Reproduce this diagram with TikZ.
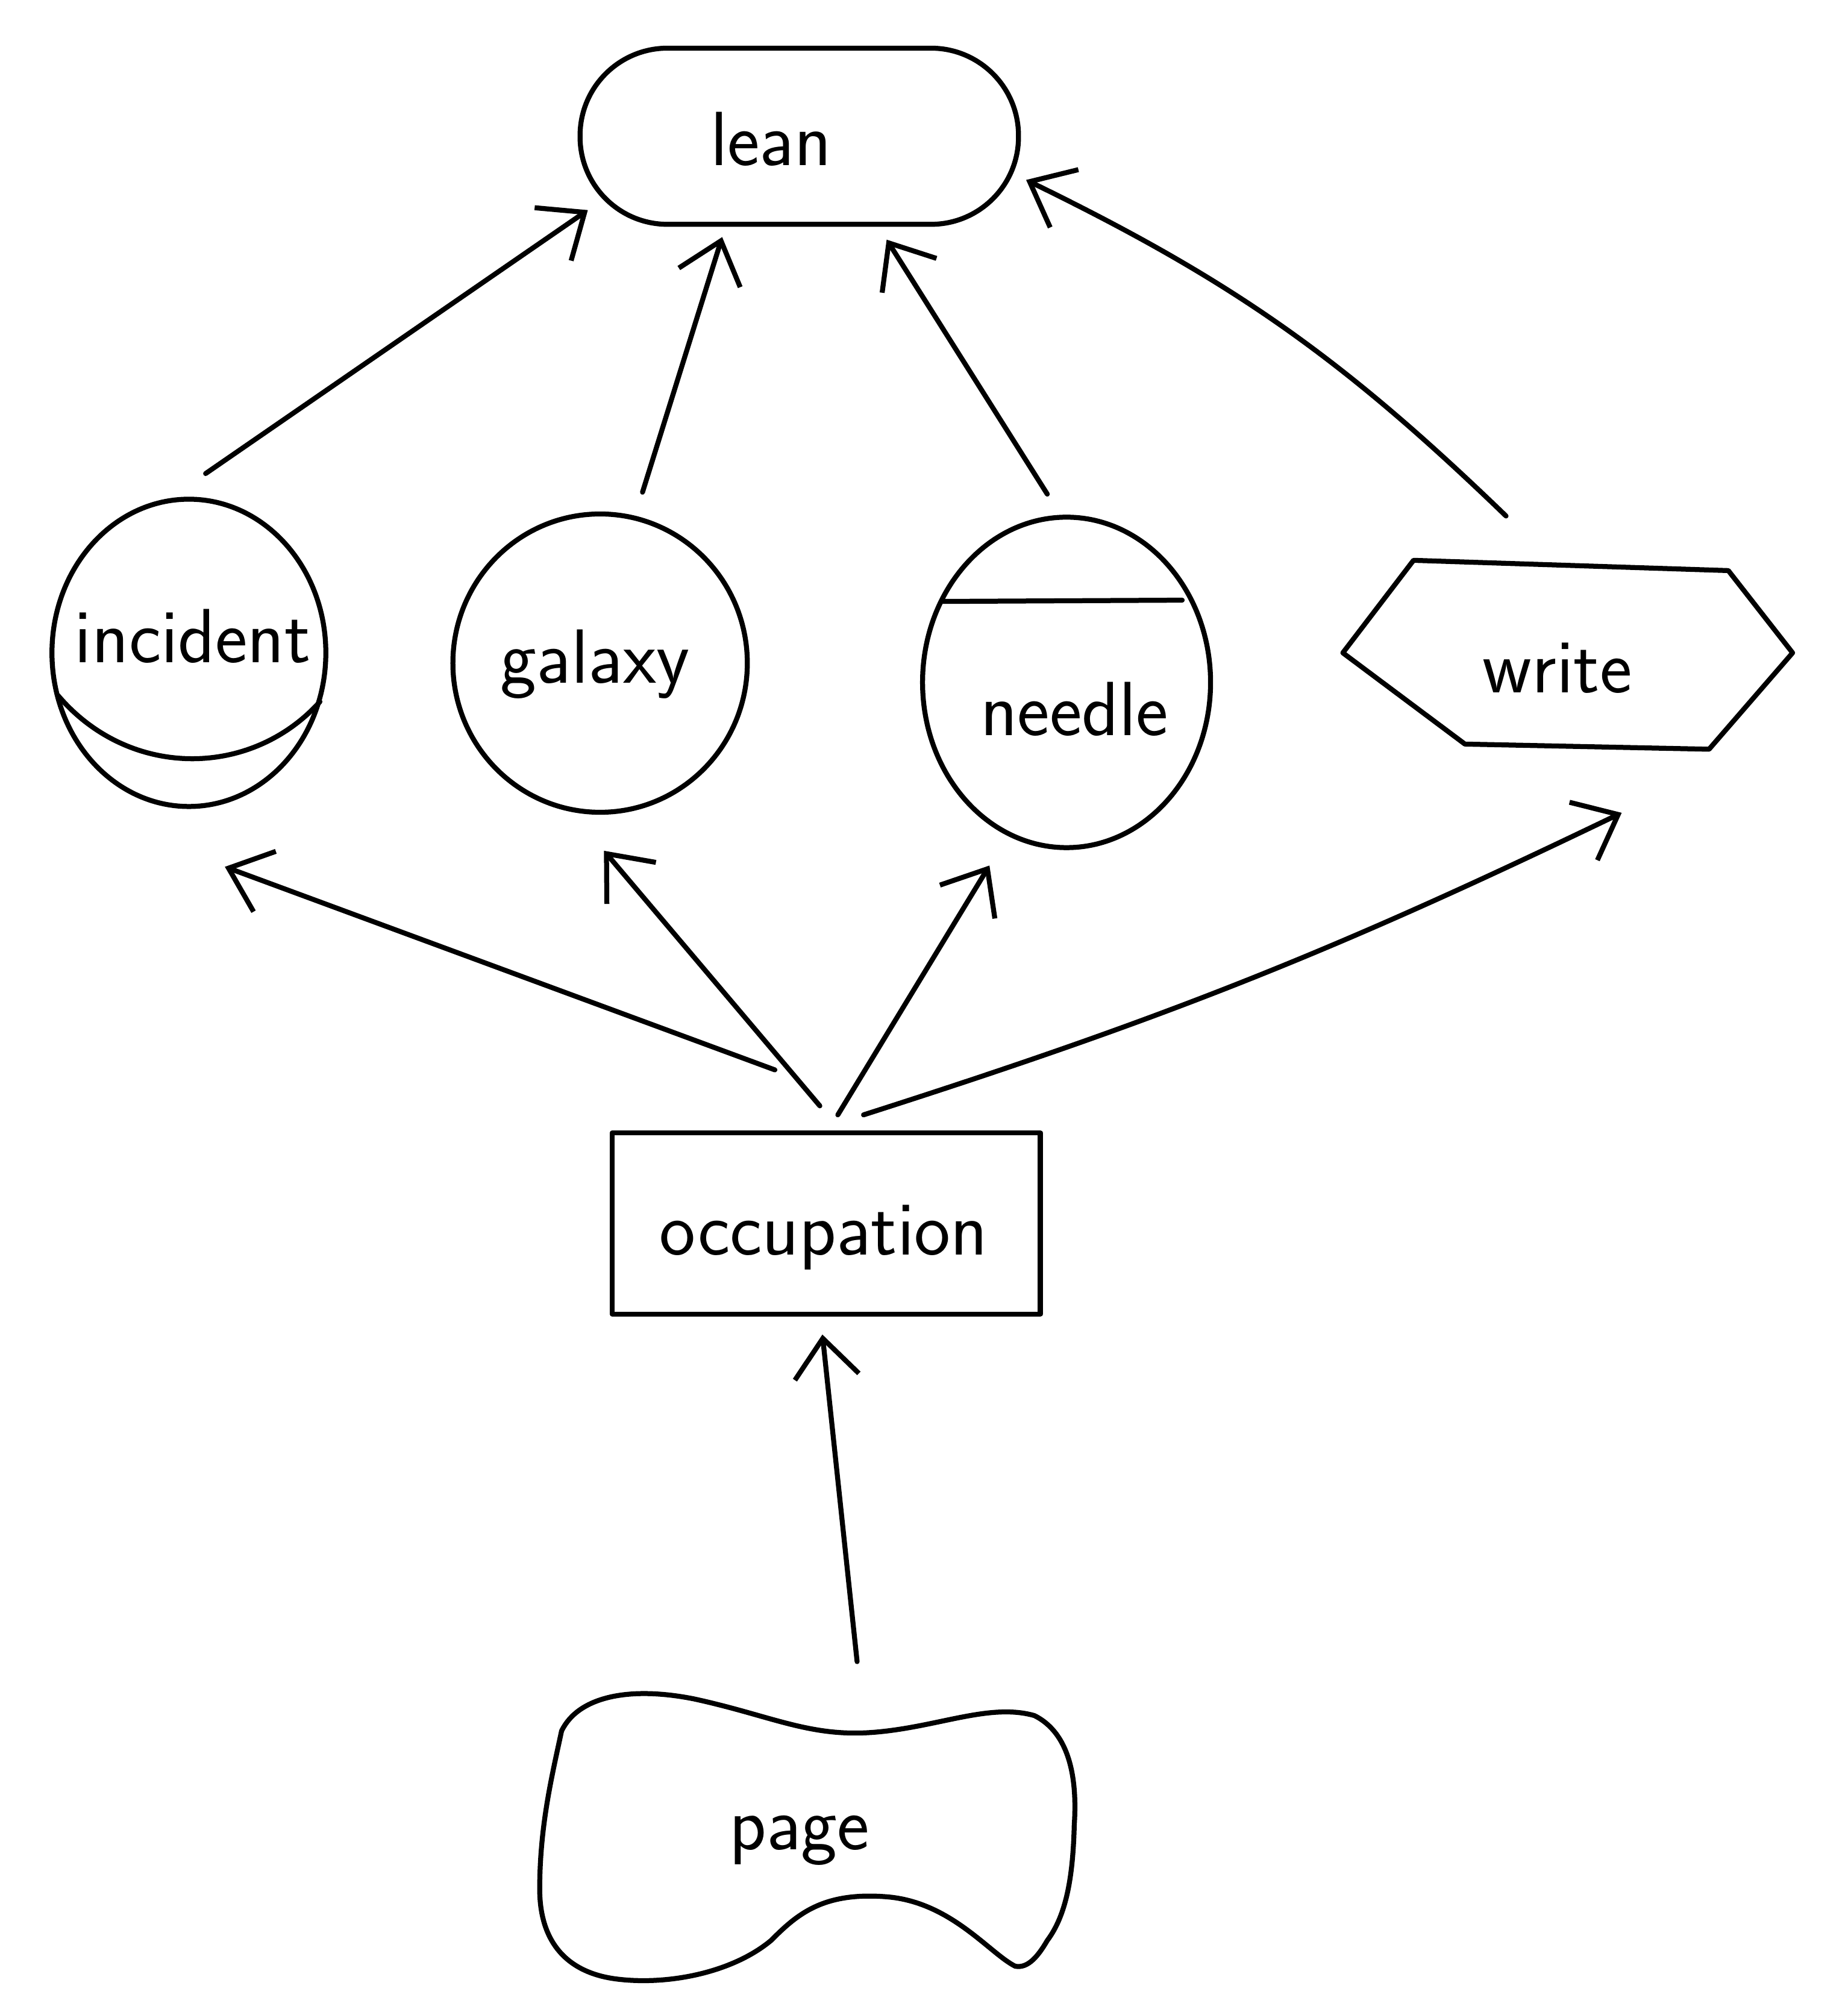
\documentclass[tikz,border=0pt]{standalone}
\usetikzlibrary{arrows.meta,shapes.geometric}
\begin{document}
\begin{tikzpicture}[x=0.01cm,y=-0.01cm, line width=1.1pt, line join=round, line cap=round,
  shp/.style={draw, inner sep=0pt},
  lbl/.style={font=\sffamily\fontsize{17}{21}\selectfont, inner sep=0pt},
  arr/.style={-{Straight Barb[length=3mm,width=5mm]}}]
\useasboundingbox (0,0) rectangle (1438,1568);
\fill[white] (0,0) rectangle (1438,1568);

% nodes
\node[shp, rounded corners=6.8mm, minimum width=3.41cm, minimum height=1.37cm] (lean) at (622,106) {};
\node[shp, ellipse, minimum width=2.13cm, minimum height=2.39cm] (incident) at (147,508) {};
\node[shp, ellipse, minimum width=2.29cm, minimum height=2.32cm] (galaxy) at (467,516) {};
\node[shp, ellipse, minimum width=2.24cm, minimum height=2.57cm] (needle) at (830,531) {};
\node[inner sep=0pt, minimum width=3.5cm, minimum height=1.47cm] (write) at (1220,510) {};
\node[shp, minimum width=3.33cm, minimum height=1.41cm] (occupation) at (643,952) {};
\node[inner sep=0pt, minimum width=4.18cm, minimum height=2.22cm] (page) at (627,1429) {};

% shape details
\draw (45,541) .. controls (100,606) and (195,606) .. (249,546);
\draw (733,468) -- (920,467);
\draw (1100,436) -- (1345,444) -- (1395,508) -- (1330,583) -- (1140,579) -- (1045,508) -- cycle;
\draw (437,1347) .. controls (450,1320) and (490,1312) .. (540,1322)
  .. controls (600,1335) and (630,1352) .. (680,1348)
  .. controls (730,1344) and (770,1325) .. (805,1335)
  .. controls (835,1350) and (838,1390) .. (836,1420)
  .. controls (835,1460) and (830,1490) .. (815,1510)
  .. controls (808,1522) and (800,1532) .. (790,1530)
  .. controls (770,1520) and (740,1480) .. (690,1476)
  .. controls (640,1472) and (620,1490) .. (600,1510)
  .. controls (570,1535) and (520,1545) .. (480,1540)
  .. controls (440,1535) and (420,1510) .. (420,1470)
  .. controls (420,1420) and (430,1380) .. (437,1347) -- cycle;

% labels
\node[lbl] (leanT) at (600,108) {lean};
\node[lbl] (incidentT) at (150,495) {incident};
\node[lbl] (galaxyT) at (463,517) {galaxy};
\node[lbl] (needleT) at (836,552) {needle};
\node[lbl] (writeT) at (1212,520) {write};
\node[lbl] (occupationT) at (641,963) {occupation};
\node[lbl] (pageT) at (622,1432) {page};

% connectors
\draw[arr] ([shift={(13,-18)}]incident.north) -- ([shift={(8,-13)}]lean.south west);
\draw[arr] ([shift={(33,-15)}]galaxy.north) -- ([shift={(-60,8)}]lean.south);
\draw[arr] ([shift={(-15,-16)}]needle.north) -- ([shift={(68,10)}]lean.south);
\draw[arr] ([shift={(-48,-33)}]write.north) to[bend right=9] ([shift={(4,34)}]lean.east);
\draw[arr] ([shift={(-40,-47)}]occupation.north) -- ([shift={(28,45)}]incident.south);
\draw[arr] ([shift={(-5,-19)}]occupation.north) -- ([shift={(3,28)}]galaxy.south);
\draw[arr] ([shift={(9,-12)}]occupation.north) -- ([shift={(-60,12)}]needle.south);
\draw[arr] ([shift={(29,-12)}]occupation.north) to[bend right=4] ([shift={(42,47)}]write.south);
\draw[arr] ([shift={(40,-23)}]page.north) -- ([shift={(-3,14)}]occupation.south);
\end{tikzpicture}
\end{document}
